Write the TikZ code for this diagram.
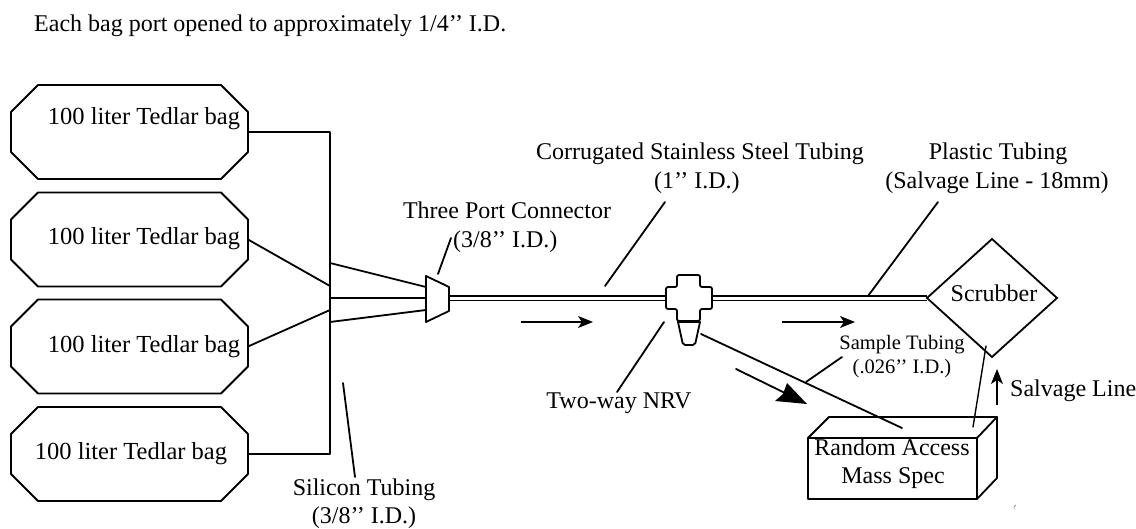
\documentclass[tikz,border=0pt]{standalone}
\usepackage{fontspec}
\setmainfont{Liberation Serif}
\usetikzlibrary{shapes.geometric,arrows.meta}
\begin{document}
\begin{tikzpicture}[x=1pt,y=-1pt,
  ln/.style={line width=1.8pt,black,line cap=round,line join=round},
  thinln/.style={line width=1.4pt,black,line cap=round},
  bag/.style={rectangle,minimum width=237pt,minimum height=94pt,inner sep=0pt,outer sep=0pt},
  dia/.style={draw,line width=1.8pt,diamond,minimum width=130pt,minimum height=118pt,inner sep=0pt,outer sep=0pt,aspect=1.1},
  lab/.style={font=\fontsize{24}{24}\selectfont,inner sep=0pt,anchor=base,text=black},
  bagtext/.style={font=\fontsize{24.5}{24.5}\selectfont,inner sep=0pt,anchor=base,text=black},
  labl/.style={lab,anchor=base west},
  small/.style={font=\fontsize{20.5}{20.5}\selectfont,inner sep=0pt,anchor=base,text=black},
  flow/.style={line width=1.6pt,-{Stealth[length=15pt,width=12pt,inset=4pt]}},
  ]
\path[use as bounding box,fill=white] (0,0) rectangle (1136,529);

% title
\node[lab,anchor=base west] (title) at (34,32) {Each bag port opened to approximately 1/4’{}’ I.D.};

% bags
\node[bag] (bag1) at (129.5,132) {};
\node[bag] (bag2) at (129.5,239.5) {};
\node[bag] (bag3) at (129.5,346.5) {};
\node[bag] (bag4) at (129.5,454) {};
\foreach \b in {bag1,bag2,bag3,bag4}
  \draw[ln] ([xshift=27pt]\b.north west) -- ([xshift=-27pt]\b.north east)
    -- ([yshift=-27pt]\b.north east) -- ([yshift=27pt]\b.south east)
    -- ([xshift=-27pt]\b.south east) -- ([xshift=27pt]\b.south west)
    -- ([yshift=27pt]\b.south west) -- ([yshift=-27pt]\b.north west) -- cycle;
\node[bagtext] (t1) at (144,125) {100 liter Tedlar bag};
\node[bagtext] (t2) at (144,245) {100 liter Tedlar bag};
\node[bagtext] (t3) at (144,353) {100 liter Tedlar bag};
\node[bagtext] (t4) at (131,460) {100 liter Tedlar bag};

% manifold
\coordinate (bustop) at (330,132);
\coordinate (busbot) at (330,454);
\coordinate (bus2) at (330,286);
\coordinate (bus3) at (330,310);
\coordinate (p1) at (330,263);
\coordinate (p2) at (330,298);
\coordinate (p3) at (330,322);
\coordinate (c1) at (426,287);
\coordinate (c2) at (426,298);
\coordinate (c3) at (426,310);
\draw[ln] (bag1.east) -- (bustop) -- (busbot) -- (bag4.east);
\draw[ln] (bag2.east) -- (bus2);
\draw[ln] (bag3.east) -- (bus3);
\draw[ln] (p1) -- (c1);
\draw[ln] (p2) -- (c2);
\draw[ln] (p3) -- (c3);

% three port connector
\draw[ln] (426,276) -- (449,287) -- (449,311) -- (426,322) -- cycle;

% main tubing
\draw[line width=1.5pt] (449,296) -- (666,296);
\draw[line width=1.5pt] (449,300.5) -- (666,300.5);
\draw[line width=1.5pt] (712,296) -- (927,296);
\draw[line width=1.5pt] (712,300.5) -- (927,300.5);

% cross and valve
\draw[ln,rounded corners=2pt] (677,275) -- (700,275) -- (700,287) -- (712,287) -- (712,309) -- (700,309) -- (700,321) -- (677,321) -- (677,309) -- (666,309) -- (666,287) -- (677,287) -- cycle;
\draw[line width=2.6pt] (677,322) -- (700,322);
\draw[ln,rounded corners=2pt] (678,322) -- (683,345) -- (695,345) -- (700,322);

% scrubber
\node[dia] (scrub) at (992,298) {};
\node[lab] (scrubt) at (994,302) {Scrubber};

% mass spec box
\draw[ln] (808,438) rectangle (977,499);
\draw[ln] (808,438) -- (829,417) -- (997,417) -- (977,438);
\draw[ln] (997,417) -- (997,478) -- (977,499);
\node[lab] (ms1) at (892,455) {Random Access};
\node[lab] (ms2) at (893,483) {Mass Spec};

% sample and salvage lines
\coordinate (sa) at (701,334);
\coordinate (sb) at (902,428);
\draw[ln] (sa) -- (sb);
\coordinate (va) at (986,346);
\coordinate (vb) at (973,427);
\draw[thinln] (va) -- (vb);

% flow arrows
\coordinate (f1a) at (521,322);
\coordinate (f1b) at (593,322);
\draw[flow] (f1a) -- (f1b);
\coordinate (f2a) at (782,322);
\coordinate (f2b) at (855,322);
\draw[flow] (f2a) -- (f2b);
\coordinate (f3a) at (736,369);
\coordinate (f3b) at (785,393);
\draw[ln] (f3a) -- (f3b);
\fill (807,404) -- (775,401) -- (783,394) -- (787,383) -- cycle;
\coordinate (f4a) at (997,405);
\coordinate (f4b) at (997,369);
\draw[line width=1.3pt,-{Stealth[length=15pt,width=12pt,inset=4pt]}] (f4a) -- (f4b);

% labels
\node[lab] (tp1) at (507,219) {Three Port Connector};
\node[labl] (tp2) at (453,248) {(3/8’{}’ I.D.)};
\node[lab] (co1) at (700,160) {Corrugated Stainless Steel Tubing};
\node[lab] (co2) at (697,189) {(1’{}’ I.D.)};
\node[lab] (pl1) at (998,160) {Plastic Tubing};
\node[lab] (pl2) at (997,189) {(Salvage Line - 18mm)};
\node[lab] (si1) at (364,495) {Silicon Tubing};
\node[lab] (si2) at (364,523) {(3/8’{}’ I.D.)};
\node[lab] (nrv) at (619,409) {Two-way NRV};
\node[small] (st1) at (902,350) {Sample Tubing};
\node[small] (st2) at (902,374) {(.026’{}’ I.D.)};
\node[labl] (sl) at (1010,397) {Salvage Line};

% leaders
\coordinate (l1a) at (438,274); \coordinate (l1b) at (451,238);
\coordinate (l2a) at (605,286); \coordinate (l2b) at (665,202);
\coordinate (l3a) at (868,296); \coordinate (l3b) at (938,202);
\coordinate (l4a) at (664,322); \coordinate (l4b) at (617,392);
\coordinate (l5a) at (806,382); \coordinate (l5b) at (842,357);
\coordinate (l6a) at (343,383); \coordinate (l6b) at (355,477);
\foreach \a/\b in {l1a/l1b,l2a/l2b,l3a/l3b,l4a/l4b,l5a/l5b,l6a/l6b} \draw[ln] (\a) -- (\b);

% scan speck
\draw[line width=0.5pt,black!60] (1016,505) .. controls (1014,505.5) and (1014,507) .. (1014,509);
\end{tikzpicture}
\end{document}
